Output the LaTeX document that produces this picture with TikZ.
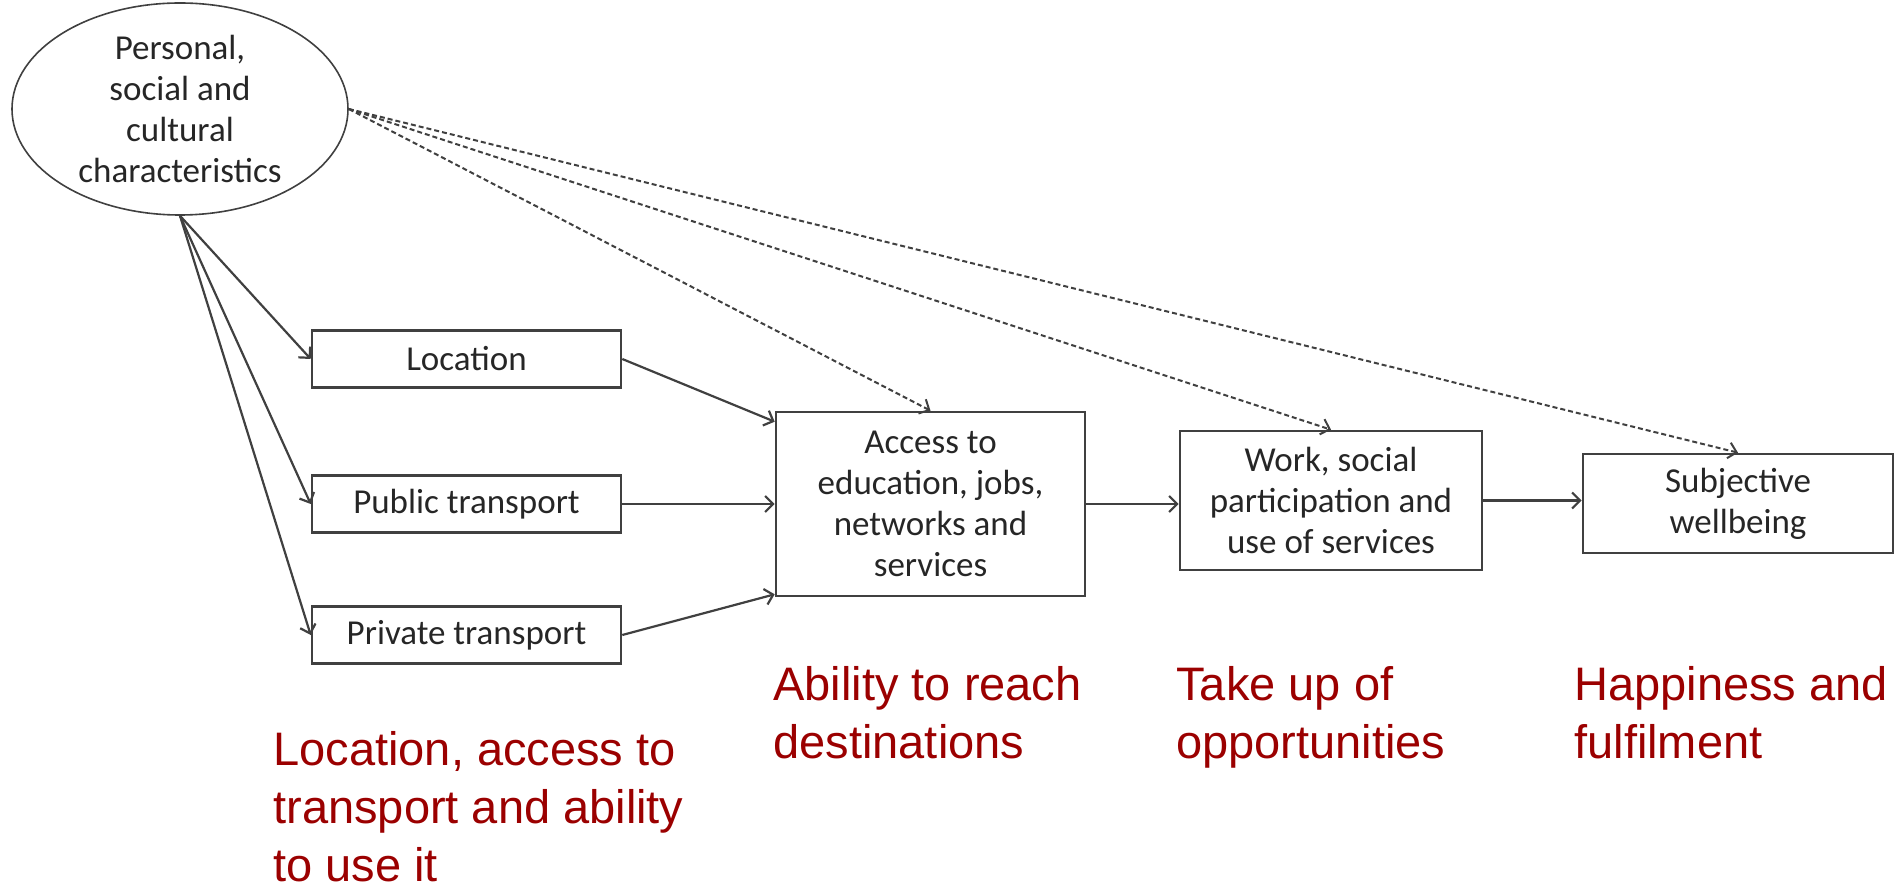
\documentclass[tikz,border=0pt]{standalone}
\usepackage{fontspec}
\setmainfont{Carlito}
\newfontfamily\notefont{Liberation Sans}
\usetikzlibrary{shapes.geometric,arrows.meta,positioning}
\definecolor{notered}{RGB}{155,0,0}
\tikzset
{
    factor/.style   = {ellipse, draw=black!75, line width=0.8pt, align=center, inner sep=0pt, minimum width=168pt, minimum height=106pt, text=black!85, font=\fontsize{17.5}{20.5}\selectfont},
    process/.style  = {rectangle, draw=black!75, line width=1.3pt, align=center, minimum width=154.5pt, minimum height=28.5pt, text=black!85, font=\fontsize{17.5}{20.5}\selectfont},
    arrow/.style    = {line width=1.1pt, draw=black!75, -{Straight Barb[length=4pt,width=8pt]}},
    influence/.style= {arrow, line width=1pt, dash pattern=on 2.5pt off 1.5pt},
    note/.style     = {align=left, anchor=base west, inner sep=0pt, text=notered, font=\notefont\fontsize{23.5}{29}\selectfont}
}

\begin{document}
\begin{tikzpicture}[x=0.5pt, y=-0.5pt]
\useasboundingbox (0,0) rectangle (1895,892);
\node(pers) [factor] at (180,109) {Personal,\\social and\\cultural\\characteristics};
\node(loc) [process] at (466.5,359) {Location};
\node(pub) [process] at (466.5,504) {Public transport};
\node(priv) [process] at (466.5,635) {Private transport};
\node(acc) [process, minimum height=92pt] at (930.5,504) {Access to\\education, jobs,\\networks and\\services};
\node(work) [process, minimum width=151pt, minimum height=69.5pt] at (1331,500.5) {Work, social\\participation and\\use of services};
\node(subj) [process, minimum width=155pt, minimum height=49.5pt] at (1738,503.5) {Subjective\\wellbeing};
% notes sit on the baseline of their last line
\node(nloc) [note] at (273,881) {Location, access to\\transport and ability\\to use it};
\node(nacc) [note] at (773,758) {Ability to reach\\destinations};
\node(nwork) [note] at (1176,758) {Take up of\\opportunities};
\node(nsubj) [note] at (1574,758) {Happiness and\\fulfilment};
\draw[arrow] (pers.south) -- (loc.west);
\draw[arrow] (pers.south) -- (pub.west);
\draw[arrow] (pers.south) -- (priv.west);
\draw[arrow] (loc.east) -- ([yshift=-5.5pt]acc.north west);
\draw[arrow] (pub.east) -- (acc.west);
\draw[arrow] (priv.east) -- ([yshift=1.5pt]acc.south west);
\draw[arrow] (acc.east) -- (acc.east -| work.west);
\draw[arrow] (work.east) -- (work.east -| subj.west);
\draw[influence] (pers.east) -- (acc.north);
\draw[influence] (pers.east) -- (work.north);
\draw[influence] (pers.east) -- (subj.north);
\end{tikzpicture}
\end{document}
